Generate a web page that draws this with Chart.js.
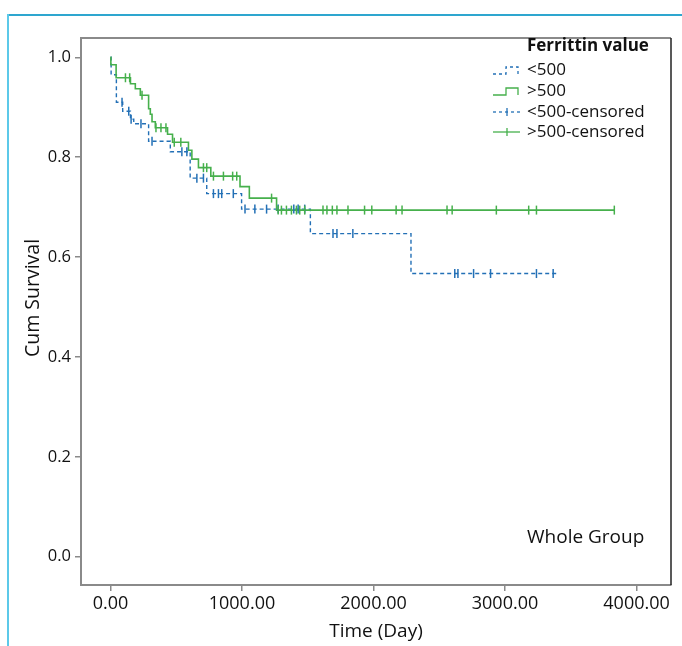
<!DOCTYPE html>
<html>
<head>
<meta charset="utf-8">
<script src="https://cdn.jsdelivr.net/npm/chart.js@4"></script>
<style>
  body { margin: 0; background: #fff; }
  #wrap { position: relative; width: 682px; height: 646px; }
  #chart { position: absolute; left: 0; top: 0; }
  .frameTop { position: absolute; left: 7px; top: 14px; right: 0; height: 2px; background: #2ea6cf; }
  .frameLeft { position: absolute; left: 7px; top: 14px; bottom: 0; width: 2px; background: #5cc9e9; }
</style>
</head>
<body>
<div id="wrap">
  <canvas id="chart" width="682" height="646"></canvas>
  <div class="frameTop"></div>
  <div class="frameLeft"></div>
</div>
<script>
// Kaplan-Meier steps: time of event (days) and survival after it
const lowTimes = [0, 5, 45, 93, 152, 177, 290, 455, 606, 732, 997, 1520, 2285, 3390];
const lowSurv  = [1.0, 0.965, 0.910, 0.892, 0.876, 0.867, 0.832, 0.811, 0.758, 0.727, 0.696, 0.647, 0.567, 0.567];
const highTimes = [0, 3, 43, 152, 189, 227, 290, 303, 316, 341, 434, 472, 593, 619, 669, 763, 985, 1056, 1263, 3831];
const highSurv  = [1.0, 0.985, 0.959, 0.947, 0.937, 0.924, 0.897, 0.886, 0.871, 0.859, 0.846, 0.830, 0.814, 0.796, 0.779, 0.762, 0.741, 0.718, 0.694, 0.694];

// censored observations (days)
const lowCensored = [88, 139, 157, 232, 316, 543, 581, 657, 707, 783, 821, 846, 934, 1023, 1098, 1187,
  1275, 1394, 1427, 1477, 1692, 1722, 1843, 2618, 2642, 2761, 2890, 3239, 3366];
const highCensored = [114, 146, 240, 346, 384, 422, 485, 535, 707, 732, 783, 859, 929, 960, 1225, 1275,
  1300, 1338, 1376, 1414, 1439, 1477, 1616, 1646, 1687, 1722, 1806, 1932, 1987, 2172, 2217, 2559,
  2598, 2934, 3180, 3239, 3831];

const xTicks = [0, 1000, 2000, 3000, 4000];
const yTicks = [0, 0.2, 0.4, 0.6, 0.8, 1.0];
const seriesNames = ['<500', '>500', '<500-censored', '>500-censored'];

const BLUE = 'rgb(35,112,182)';
const GREEN = 'rgb(70,176,76)';
const GRAY = '#8a8a8a';

function steps(times, surv) {
  return times.map((t, i) => ({ x: t, y: surv[i] }));
}

// survival level of a curve at time t
function levelAt(times, surv, t) {
  let s = surv[0];
  for (let i = 0; i < times.length; i++) {
    if (times[i] <= t) s = surv[i];
  }
  return s;
}

function censorPoints(list, times, surv) {
  return list.map(t => ({ x: t, y: levelAt(times, surv, t) }));
}

const overlay = {
  id: 'overlay',
  afterDraw(chart) {
    const { ctx, chartArea: a } = chart;
    ctx.save();
    // top and right edges of the plot box
    ctx.strokeStyle = GRAY;
    ctx.lineWidth = 2;
    ctx.beginPath();
    ctx.moveTo(a.left, a.top);
    ctx.lineTo(a.right, a.top);
    ctx.stroke();
    ctx.strokeStyle = '#222';
    ctx.lineWidth = 1.5;
    ctx.beginPath();
    ctx.moveTo(a.right, a.top);
    ctx.lineTo(a.right, a.bottom);
    ctx.stroke();

    // y axis title
    ctx.save();
    ctx.translate(33.5, 298);
    ctx.rotate(-Math.PI / 2);
    ctx.fillStyle = '#111';
    ctx.font = '19.5px "Open Sans"';
    ctx.textAlign = 'center';
    ctx.textBaseline = 'middle';
    ctx.fillText('Cum Survival', 0, 0);
    ctx.restore();

    // legend
    const tx = 527, ix = 493, iw = 27;
    ctx.fillStyle = '#111';
    ctx.textBaseline = 'middle';
    ctx.textAlign = 'left';
    ctx.font = 'bold 17px "Open Sans"';
    ctx.fillText('Ferrittin value', tx, 46);
    ctx.font = '17px "Open Sans"';
    const rows = [70, 91, 112, 132];
    seriesNames.forEach((name, i) => {
      ctx.fillText(name, tx, rows[i]);
    });

    ctx.lineWidth = 1.3;
    // step icons
    [[BLUE, [3, 3]], [GREEN, []]].forEach(([col, dash], i) => {
      const y = rows[i];
      ctx.strokeStyle = col;
      ctx.setLineDash(dash);
      ctx.beginPath();
      ctx.moveTo(ix, y + 4);
      ctx.lineTo(ix + 13, y + 4);
      ctx.lineTo(ix + 13, y - 3);
      ctx.lineTo(ix + iw - 2, y - 3);
      ctx.lineTo(ix + iw - 2, y + 4);
      ctx.stroke();
    });
    // censored icons
    [[BLUE, [3, 3]], [GREEN, []]].forEach(([col, dash], i) => {
      const y = rows[i + 2];
      ctx.strokeStyle = col;
      ctx.setLineDash(dash);
      ctx.beginPath();
      ctx.moveTo(ix, y);
      ctx.lineTo(ix + iw, y);
      ctx.stroke();
      ctx.setLineDash([]);
      ctx.beginPath();
      ctx.moveTo(ix + 14, y - 4);
      ctx.lineTo(ix + 14, y + 4);
      ctx.stroke();
    });
    ctx.setLineDash([]);

    ctx.fillStyle = '#111';
    ctx.font = '19px "Open Sans"';
    ctx.fillText('Whole Group', tx, 538);
    ctx.restore();
  }
};

Chart.defaults.font.family = '"Open Sans", sans-serif';
Chart.defaults.color = '#111';

new Chart(document.getElementById('chart'), {
  type: 'line',
  data: {
    datasets: [
      {
        label: seriesNames[1],
        data: steps(highTimes, highSurv),
        borderColor: GREEN,
        borderWidth: 1.6,
        stepped: true,
        pointRadius: 0,
        order: 1
      },
      {
        label: seriesNames[0],
        data: steps(lowTimes, lowSurv),
        borderColor: BLUE,
        borderWidth: 1.4,
        borderDash: [4, 3],
        stepped: true,
        pointRadius: 0,
        order: 2
      },
      {
        label: seriesNames[3],
        data: censorPoints(highCensored, highTimes, highSurv),
        showLine: false,
        pointStyle: 'line',
        rotation: 90,
        radius: 4.5,
        pointBorderWidth: 1.5,
        borderColor: GREEN,
        order: 0
      },
      {
        label: seriesNames[2],
        data: censorPoints(lowCensored, lowTimes, lowSurv),
        showLine: false,
        pointStyle: 'line',
        rotation: 90,
        radius: 4.5,
        pointBorderWidth: 1.5,
        borderColor: BLUE,
        order: 0
      }
    ]
  },
  options: {
    responsive: false,
    animation: false,
    events: [],
    layout: { padding: { left: 0, top: 38, right: 11, bottom: 0 } },
    plugins: {
      legend: { display: false },
      tooltip: { enabled: false }
    },
    scales: {
      x: {
        type: 'linear',
        min: -224,
        max: 4262,
        afterBuildTicks: s => { s.ticks = xTicks.map(v => ({ value: v })); },
        afterFit: s => { s.height = 61; },
        ticks: {
          callback: v => v.toFixed(2),
          font: { size: 18 },
          color: '#111',
          padding: 2,
          maxRotation: 0
        },
        grid: { drawOnChartArea: false, color: GRAY, lineWidth: 1.5, tickLength: 6 },
        border: { color: GRAY, width: 2 },
        title: { display: true, text: 'Time (Day)', font: { size: 19 }, color: '#111', padding: { top: 0, bottom: 3 } }
      },
      y: {
        min: -0.0566,
        max: 1.0386,
        afterBuildTicks: s => { s.ticks = yTicks.map(v => ({ value: v })); },
        afterFit: s => { s.width = 81; },
        ticks: {
          callback: v => v.toFixed(1),
          font: { size: 16.5 },
          color: '#111',
          padding: 4
        },
        grid: { drawOnChartArea: false, color: GRAY, lineWidth: 1.5, tickLength: 6 },
        border: { color: GRAY, width: 2 }
      }
    }
  },
  plugins: [overlay]
});
</script>
</body>
</html>
